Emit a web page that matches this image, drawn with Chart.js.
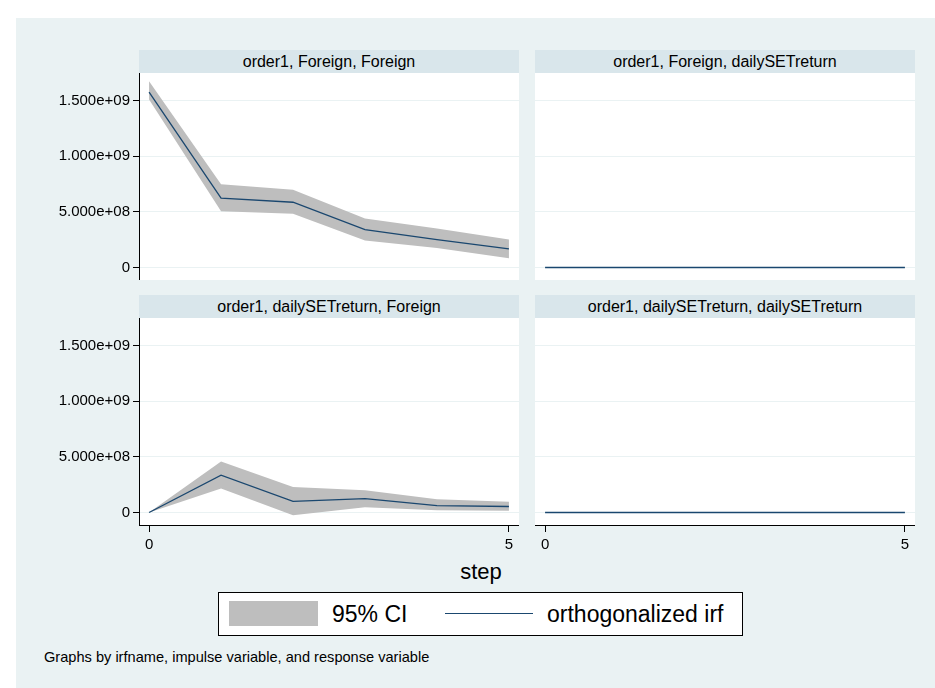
<!DOCTYPE html>
<html>
<head>
<meta charset="utf-8">
<script src="https://cdn.jsdelivr.net/npm/chart.js@4.4.1/dist/chart.umd.min.js"></script>
<style>
  body { margin: 0; background: #fff; font-family: "Liberation Sans", Arial, sans-serif; }
  #frame { position: absolute; left: 16px; top: 18px; width: 919px; height: 670px; background: #eaf2f3; }
  .hdr { position: absolute; height: 23px; line-height: 23px; background: #d9e6eb; color: #000;
         font-size: 16px; text-align: center; width: 380px; }
  canvas { position: absolute; }
  #xtitle { position: absolute; left: 381px; width: 200px; top: 559px; text-align: center; font-size: 22px; line-height: 26px; }
  #legend { position: absolute; left: 218px; top: 592px; width: 523px; height: 42px; border: 1px solid #000; background: #fff; }
  #legend .sw { position: absolute; left: 10px; top: 8px; width: 89px; height: 25px; background: #bebebe; }
  #legend .ln { position: absolute; left: 226px; top: 20px; width: 88px; height: 0; border-top: 1.5px solid #1a476f; }
  #legend .tx { position: absolute; top: 7px; font-size: 23px; line-height: 28px; }
  #note { position: absolute; left: 44px; top: 648px; font-size: 14.6px; line-height: 18px; }
</style>
</head>
<body>
<div id="frame"></div>

<div class="hdr" id="h0" style="left:139px; top:50px"></div>
<div class="hdr" id="h1" style="left:535px; top:50px"></div>
<div class="hdr" id="h2" style="left:139px; top:295px"></div>
<div class="hdr" id="h3" style="left:535px; top:295px"></div>

<canvas id="c0" width="469" height="207" style="left:50px; top:73px"></canvas>
<canvas id="c1" width="380" height="207" style="left:535px; top:73px"></canvas>
<canvas id="c2" width="469" height="240" style="left:50px; top:318px"></canvas>
<canvas id="c3" width="380" height="240" style="left:535px; top:318px"></canvas>

<div id="xtitle"></div>
<div id="legend">
  <div class="sw"></div><div class="tx" id="lg0" style="left:113px"></div>
  <div class="ln"></div><div class="tx" id="lg1" style="left:328px"></div>
</div>
<div id="note">Graphs by irfname, impulse variable, and response variable</div>

<script>
// data
const steps = [0, 1, 2, 3, 4, 5];
const panelTitles = [
    "order1, Foreign, Foreign",
    "order1, Foreign, dailySETreturn",
    "order1, dailySETreturn, Foreign",
    "order1, dailySETreturn, dailySETreturn"
];
const seriesNames = ["95% CI", "orthogonalized irf"];
const yTicks = [0, 5e8, 1e9, 1.5e9];
const xTicks = [0, 5];
const xTitle = "step";

// Foreign -> Foreign
const irfFF = [1.575e9, 6.22e8, 5.86e8, 3.41e8, 2.50e8, 1.68e8];
const loFF  = [1.508e9, 5.05e8, 4.82e8, 2.42e8, 1.75e8, 0.83e8];
const hiFF  = [1.671e9, 7.48e8, 6.97e8, 4.40e8, 3.50e8, 2.51e8];
// Foreign -> dailySETreturn
const irfFR = [0, 0, 0, 0, 0, 0];
const loFR  = [0, 0, 0, 0, 0, 0];
const hiFR  = [0, 0, 0, 0, 0, 0];
// dailySETreturn -> Foreign
const irfRF = [0, 3.35e8, 1.00e8, 1.25e8, 0.62e8, 0.54e8];
const loRF  = [0, 2.15e8, -0.24e8, 0.48e8, 0.20e8, 0.15e8];
const hiRF  = [0, 4.58e8, 2.30e8, 2.00e8, 1.20e8, 0.96e8];
// dailySETreturn -> dailySETreturn
const irfRR = [0, 0, 0, 0, 0, 0];
const loRR  = [0, 0, 0, 0, 0, 0];
const hiRR  = [0, 0, 0, 0, 0, 0];

const FONT = "'Liberation Sans', Arial, sans-serif";
const NAVY = "#1a476f";
const CI = "#bebebe";
const GRID = "#eaf2f3";

function sci(v) {
    if (v === 0) return "0";
    return v.toExponential(3).replace(/e([+-])(\d)$/, (m, s, d) => "e" + s + "0" + d);
}

// white plot region, like Stata's plotregion
const plotBg = {
    id: "plotBg",
    beforeDraw(chart) {
        const a = chart.chartArea;
        chart.ctx.save();
        chart.ctx.fillStyle = "#fff";
        chart.ctx.fillRect(a.left, a.top, a.right - a.left, a.bottom - a.top);
        chart.ctx.restore();
    }
};

function pts(arr) {
    return steps.map((s, i) => ({ x: s, y: arr[i] }));
}

function makePanel(id, irf, lo, hi, showY, showX, axisWidth, axisHeight) {
    const ctx = document.getElementById(id);
    return new Chart(ctx, {
        type: "line",
        data: {
            datasets: [
                { label: seriesNames[1], data: pts(irf), borderColor: NAVY, borderWidth: 1.3, pointRadius: 0, fill: false },
                { label: "lower", data: pts(lo), borderWidth: 0, pointRadius: 0, fill: false },
                { label: seriesNames[0], data: pts(hi), borderWidth: 0, pointRadius: 0,
                  fill: "-1", backgroundColor: CI }
            ]
        },
        options: {
            responsive: false,
            animation: false,
            layout: { padding: 0 },
            plugins: { legend: { display: false }, tooltip: { enabled: false } },
            scales: {
                x: {
                    type: "linear",
                    min: -0.14, max: 5.14,
                    display: showX,
                    afterBuildTicks: s => { s.ticks = xTicks.map(v => ({ value: v })); },
                    afterFit: s => { s.height = axisHeight; s.paddingLeft = 0; s.paddingRight = 0; },
                    border: { display: true, color: "#000", width: 1 },
                    grid: { drawOnChartArea: false, tickColor: "#000", tickLength: 7, drawTicks: true },
                    ticks: { color: "#000", padding: 4, maxRotation: 0, font: { family: FONT, size: 15 } }
                },
                y: {
                    min: -1.12e8, max: 1.746e9,
                    afterBuildTicks: s => { s.ticks = yTicks.map(v => ({ value: v })); },
                    afterFit: s => { s.width = axisWidth; s.paddingTop = 0; s.paddingBottom = 0; },
                    border: { display: showY, color: "#000", width: 1 },
                    grid: { color: GRID, lineWidth: 1, tickColor: "#000", tickLength: showY ? 6 : 0, drawTicks: showY },
                    ticks: { display: showY, color: "#000", padding: 3, font: { family: FONT, size: 15 },
                             callback: v => sci(v) }
                }
            }
        },
        plugins: [plotBg]
    });
}

panelTitles.forEach((t, i) => { document.getElementById("h" + i).textContent = t; });
document.getElementById("xtitle").textContent = xTitle;
document.getElementById("lg0").textContent = seriesNames[0];
document.getElementById("lg1").textContent = seriesNames[1];

makePanel("c0", irfFF, loFF, hiFF, true, false, 89, 0);
makePanel("c1", irfFR, loFR, hiFR, false, false, 0, 0);
makePanel("c2", irfRF, loRF, hiRF, true, true, 89, 33);
makePanel("c3", irfRR, loRR, hiRR, false, true, 0, 33);
</script>
</body>
</html>
